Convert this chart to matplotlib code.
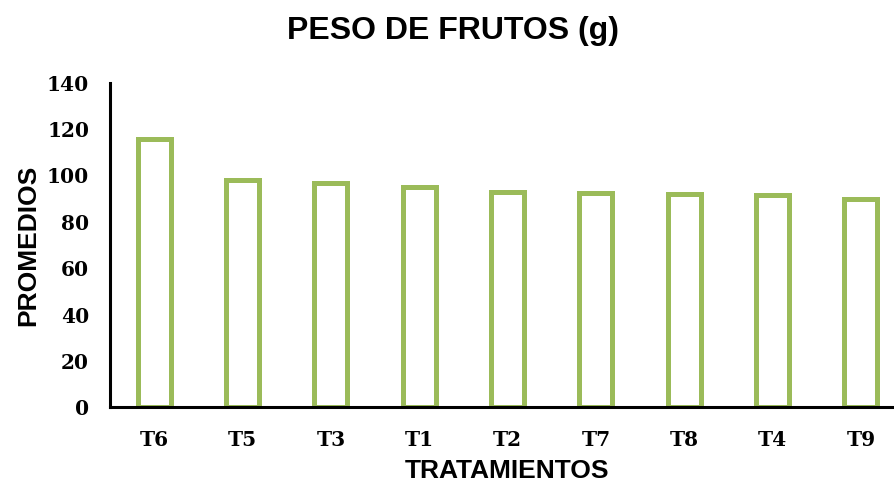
import matplotlib
matplotlib.use("Agg")
import matplotlib.pyplot as plt

# mean fruit weight per treatment (g), sorted as in the original chart
tratamientos = ["T6", "T5", "T3", "T1", "T2", "T7", "T8", "T4", "T9"]
promedios = [115.7, 97.9, 96.8, 94.8, 92.9, 92.3, 92.0, 91.4, 90.0]
y_ticks = [0, 20, 40, 60, 80, 100, 120, 140]

BAR_EDGE = "#9BBB59"

fig = plt.figure(figsize=(8.94, 4.82), dpi=100)
# plot area runs slightly past the right edge, like the cropped original
ax = fig.add_axes([110 / 894, 74.7 / 482, 795 / 894, 324.6 / 482])

x = list(range(len(tratamientos)))
ax.bar(x, promedios, width=0.374, color="white", edgecolor=BAR_EDGE,
       linewidth=3.6, zorder=1)

ax.set_xlim(-0.5, 8.5)
ax.set_ylim(0, 140)
ax.set_yticks(y_ticks)
ax.set_xticks(x)
ax.set_xticklabels(tratamientos)

for side in ("top", "right"):
    ax.spines[side].set_visible(False)
for side in ("left", "bottom"):
    ax.spines[side].set_linewidth(2.2)
    ax.spines[side].set_color("black")

ax.tick_params(axis="both", length=0)
ax.tick_params(axis="y", pad=15)
ax.tick_params(axis="x", pad=16)
for lab in ax.get_xticklabels() + ax.get_yticklabels():
    lab.set_fontfamily("DejaVu Serif")
    lab.set_fontweight("bold")
    lab.set_fontsize(14.5)

label_font = dict(family="Liberation Sans", weight="bold", size=19)
ax.set_ylabel("PROMEDIOS", labelpad=5, **label_font)
# x label sits right at the bottom edge (it is clipped in the source image)
fig.text(507 / 894, 4 / 482, "TRATAMIENTOS", ha="center", va="baseline",
         **label_font)

fig.text(453 / 894, 1 - 31 / 482, "PESO DE FRUTOS (g)", ha="center", va="center",
         family="Liberation Sans", weight="bold", size=23)

fig.savefig("out.png", dpi=100)
plt.close(fig)
